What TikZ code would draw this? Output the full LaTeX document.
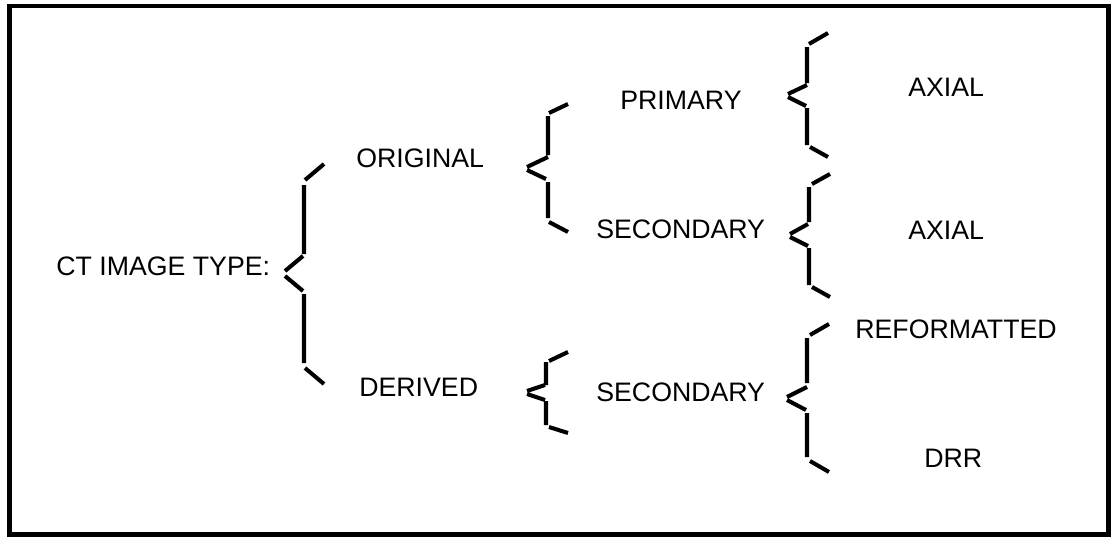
\documentclass[tikz,border=0pt]{standalone}
\usepackage{fontspec}
\setmainfont{Liberation Sans}
\begin{document}
\begin{tikzpicture}[scale=0.2,
		brace/.style={black, line width=2.3pt},
		typetext/.style={anchor=base west, font=\fontsize{15.2}{17}\selectfont}]
		\tikzstyle{every node}+=[inner sep=0pt]
		\useasboundingbox (0,0) rectangle (111.1,-53.9);
		\draw [black, line width=2.6pt] (0.95,-0.6) rectangle (110.85,-53.45);
		% texts
		\node [typetext] (ctType) at (5.6,-27.5) {CT IMAGE TYPE:};
		\node [typetext] (original) at (35.6,-16.7) {ORIGINAL};
		\node [typetext] (derived) at (35.9,-39.6) {DERIVED};
		\node [typetext] (primary) at (62.0,-10.9) {PRIMARY};
		\node [typetext] (secondaryA) at (59.6,-23.8) {SECONDARY};
		\node [typetext] (secondaryB) at (59.6,-40.1) {SECONDARY};
		\node [typetext] (axialA) at (90.8,-9.6) {AXIAL};
		\node [typetext] (axialB) at (90.8,-23.9) {AXIAL};
		\node [typetext] (reformatted) at (85.5,-33.8) {REFORMATTED};
		\node [typetext] (drr) at (92.4,-46.7) {DRR};
		% braces
		\draw [brace] (32.4,-16.4) -- (30.5,-18.0) (30.4,-18.5) -- (30.4,-25.4)
			(30.3,-25.6) -- (28.5,-27.1) (28.5,-27.6) -- (30.3,-29.1)
			(30.4,-29.4) -- (30.4,-36.3) (30.5,-36.8) -- (32.4,-38.4);
		\draw [brace] (56.8,-10.4) -- (54.9,-11.3) (54.8,-11.6) -- (54.8,-15.5)
			(54.8,-15.7) -- (52.7,-16.7) (52.7,-17.0) -- (54.6,-17.9)
			(54.8,-18.2) -- (54.8,-21.8) (54.9,-22.2) -- (56.8,-23.2);
		\draw [brace] (56.8,-35.2) -- (54.9,-36.1) (54.6,-36.2) -- (54.6,-38.5)
			(54.5,-38.5) -- (52.7,-39.1) (52.7,-39.4) -- (54.5,-40.0)
			(54.6,-40.1) -- (54.6,-42.5) (54.9,-42.7) -- (56.8,-43.3);
		\draw [brace] (82.8,-3.3) -- (80.9,-4.4) (80.7,-4.7) -- (80.7,-8.3)
			(80.7,-8.5) -- (78.8,-9.4) (78.8,-9.7) -- (80.6,-10.6)
			(80.7,-10.8) -- (80.7,-14.5) (81.0,-14.7) -- (82.8,-15.7);
		\draw [brace] (83.0,-17.4) -- (81.2,-18.4) (80.9,-18.7) -- (80.9,-22.2)
			(80.8,-22.4) -- (79.0,-23.4) (79.0,-23.7) -- (80.8,-24.6)
			(80.9,-24.8) -- (80.9,-28.5) (81.2,-28.7) -- (83.0,-29.7);
		\draw [brace] (82.9,-32.4) -- (81.0,-33.5) (80.7,-33.8) -- (80.7,-38.3)
			(80.7,-38.7) -- (78.7,-39.7) (78.7,-40.0) -- (80.6,-41.0)
			(80.7,-41.3) -- (80.7,-45.7) (81.0,-46.1) -- (82.9,-47.2);
	\end{tikzpicture}
\end{document}
